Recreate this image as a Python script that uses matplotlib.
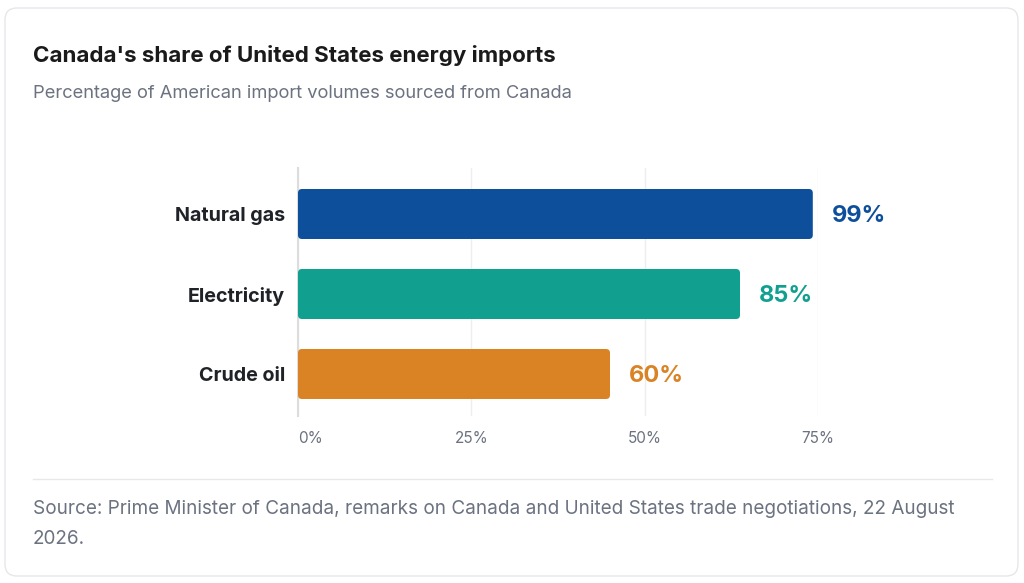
import matplotlib
matplotlib.use("Agg")
import matplotlib.pyplot as plt
from matplotlib.patches import FancyBboxPatch
from matplotlib.lines import Line2D

# ---- data ----
categories = ["Natural gas", "Electricity", "Crude oil"]
values = [99, 85, 60]
bar_colors = ["#0E4F9C", "#11A08F", "#DA8325"]
tick_labels = ["0%", "25%", "50%", "75%"]
tick_positions = [0, 100 / 3, 200 / 3, 100]

title = "Canada's share of United States energy imports"
subtitle = "Percentage of American import volumes sourced from Canada"
source_lines = ["Source: Prime Minister of Canada, remarks on Canada and United States trade negotiations, 22 August",
                "2026."]

plt.rcParams['font.family'] = ['Inter', 'DejaVu Sans']

W, H = 1024, 583
fig = plt.figure(figsize=(W / 100, H / 100), dpi=100)
fig.patch.set_facecolor("white")

def fx(px):
    return px / W

def fy(py):
    return 1 - py / H

# card
card = FancyBboxPatch((5 / 100, (H - 576) / 100), (1018 - 5) / 100, (576 - 8) / 100,
                      boxstyle="round,pad=0,rounding_size=0.12",
                      transform=fig.dpi_scale_trans, facecolor="white",
                      edgecolor="#E5E7EB", linewidth=1.0, zorder=-10)
fig.patches.append(card)

# axes
ax_left, ax_right, ax_top, ax_bottom = 298, 818, 168, 416
ax = fig.add_axes([fx(ax_left), fy(ax_bottom), fx(ax_right) - fx(ax_left),
                   (ax_bottom - ax_top) / H])
ax.set_zorder(5)
ax.set_facecolor("none")
ax.set_xlim(0, 100)
ax.set_ylim(2.525, -0.575)

ypos = list(range(len(categories)))
bars = ax.barh(ypos, values, height=0.625, color=bar_colors)

# rounded corners: replace rectangles
px_per_x = (ax_right - ax_left) / 100
px_per_y = 80.0
radius_px = 4
for rect, c in zip(bars.patches, bar_colors):
    x, y = rect.get_x(), rect.get_y()
    w, h = rect.get_width(), rect.get_height()
    rect.set_visible(False)
    fb = FancyBboxPatch((x, y), w, h,
                        boxstyle=f"round,pad=0,rounding_size={radius_px / px_per_x}",
                        mutation_aspect=px_per_x / px_per_y,
                        facecolor=c, edgecolor="none", zorder=3)
    ax.add_patch(fb)

for v, yy, c in zip(values, ypos, bar_colors):
    ax.annotate(f"{v}%", xy=(v, yy), xytext=(13.5, -1.2), textcoords="offset points",
                ha="left", va="center", fontsize=16.9, fontweight="bold", color=c,
                annotation_clip=False)

ax.set_xticks(tick_positions)
ax.set_xticklabels(tick_labels)
ax.set_yticks(ypos)
ax.set_yticklabels(categories)
ax.tick_params(axis="x", length=0, pad=11, labelsize=11, labelcolor="#6B7280")
ax.tick_params(axis="y", length=0, pad=9.5, labelsize=14.2, labelcolor="#1F2328")
for lbl in ax.get_yticklabels():
    lbl.set_fontweight("bold")
ax.get_xticklabels()[0].set_ha("left")

ax.grid(axis="x", color="#EEEEEE", linewidth=1.0, zorder=0)
ax.set_axisbelow(True)
for s in ["top", "right", "bottom"]:
    ax.spines[s].set_visible(False)
ax.spines["left"].set_color("#DDDDDD")
ax.spines["left"].set_linewidth(1.5)

# texts
fig.text(fx(33), fy(55), title, ha="left", va="center", fontsize=16.1,
         fontweight="bold", color="#1A1A1A")
fig.text(fx(33), fy(93), subtitle, ha="left", va="center", fontsize=13.2,
         color="#6B7280")

fig.lines.append(Line2D([fx(33), fx(992)], [fy(479), fy(479)], transform=fig.transFigure,
                        color="#E8E8E8", linewidth=1.0))

for i, line in enumerate(source_lines):
    fig.text(fx(33), fy(509 + 30 * i), line, ha="left", va="center", fontsize=13.64,
             color="#6B7280")

fig.savefig("out.png", dpi=100, facecolor="white")
